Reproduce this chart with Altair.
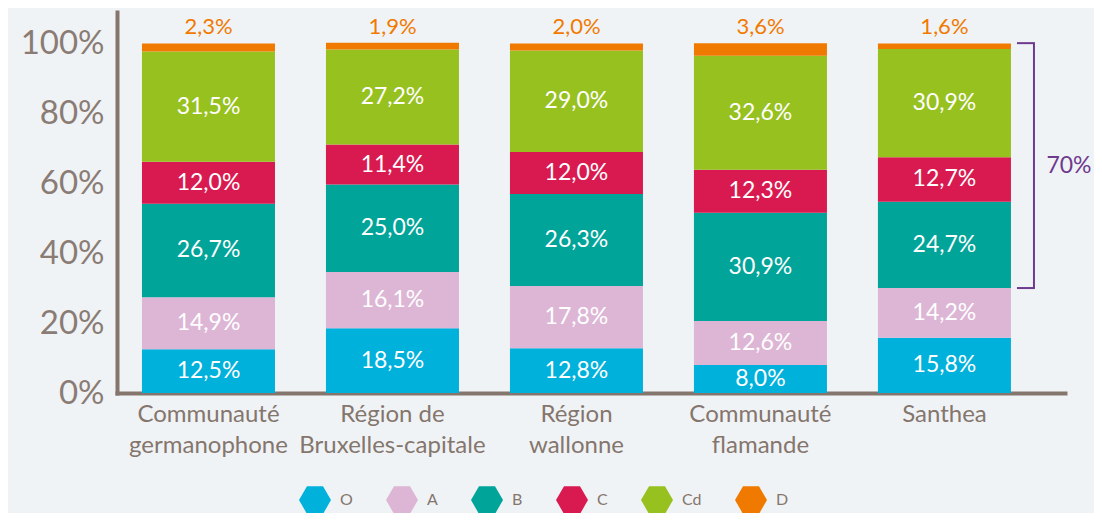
import altair as alt
import pandas as pd

# ---------------- data ----------------
categories = [
    "Communauté\ngermanophone",
    "Région de\nBruxelles-capitale",
    "Région\nwallonne",
    "Communauté\nflamande",
    "Santhea",
]
classes = ["O", "A", "B", "C", "Cd", "D"]
class_colors = ["#00b1dc", "#ddb6d6", "#00a499", "#d91a50", "#97c11f", "#f07a00"]

o_values = [12.5, 18.5, 12.8, 8.0, 15.8]
a_values = [14.9, 16.1, 17.8, 12.6, 14.2]
b_values = [26.7, 25.0, 26.3, 30.9, 24.7]
c_values = [12.0, 11.4, 12.0, 12.3, 12.7]
cd_values = [31.5, 27.2, 29.0, 32.6, 30.9]
d_values = [2.3, 1.9, 2.0, 3.6, 1.6]

y_ticks = [0, 20, 40, 60, 80, 100]

bracket_category = "Santhea"
bracket_low = 30
bracket_high = 100
bracket_label = "70%"

# ---------------- tables ----------------
series = [o_values, a_values, b_values, c_values, cd_values, d_values]
rows = []
for i, cat in enumerate(categories):
    for k, cls in enumerate(classes):
        v = series[k][i]
        rows.append({"cat": cat, "cls": cls, "idx": k, "v": v,
                     "label": f"{v:.1f}%".replace(".", ",")})
df = pd.DataFrame(rows)

bdf = pd.DataFrame([{"cat": bracket_category, "lo": bracket_low, "hi": bracket_high,
                     "mid": (bracket_low + bracket_high) / 2, "label": bracket_label}])

# ---------------- styles ----------------
FONT = "Lato"
AXIS_COL = "#85766d"
PURPLE = "#6e3a8e"
HEX = "M-1,0L-0.5,-0.866L0.5,-0.866L1,0L0.5,0.866L-0.5,0.866Z"

x_scale = alt.Scale(domain=categories, paddingInner=0.277, paddingOuter=0.2147, align=0.316)
y_scale = alt.Scale(domain=[0, 108.9], nice=False)

x_axis = alt.Axis(
    labelExpr="split(datum.value, '\\n')",
    labelFont=FONT, labelFontSize=24, labelColor=AXIS_COL, labelAngle=0,
    labelBaseline="top", labelLineHeight=31, labelPadding=9, labelLimit=0,
    ticks=False, domainColor=AXIS_COL, domainWidth=4, domainCap="square",
    grid=False, title=None,
)
y_axis = alt.Axis(
    values=y_ticks, labelExpr="datum.value + '%'",
    labelFont=FONT, labelFontSize=33, labelFontWeight=400, labelColor="#8a7c74",
    labelPadding=13, ticks=False, domainColor=AXIS_COL, domainWidth=4,
    domainCap="square", grid=False, title=None,
)

base = alt.Chart(df).transform_stack(
    stack="v", groupby=["cat"], as_=["y0", "y1"],
    sort=[alt.SortField("idx", order="ascending")],
).transform_calculate(mid="(datum.y0 + datum.y1) / 2")

bars = base.mark_bar().encode(
    x=alt.X("cat:N", scale=x_scale, axis=x_axis, sort=categories),
    y=alt.Y("y0:Q", scale=y_scale, axis=y_axis),
    y2="y1:Q",
    color=alt.Color(
        "cls:N",
        scale=alt.Scale(domain=classes, range=class_colors),
        legend=alt.Legend(
            orient="none", legendX=182, legendY=472, direction="horizontal",
            symbolType=HEX, symbolSize=1024, symbolStrokeWidth=0, symbolOpacity=1,
            labelFont=FONT, labelFontSize=16, labelColor=AXIS_COL,
            columnPadding=33, labelOffset=9, padding=0, title=None,
        ),
    ),
    order=alt.Order("idx:Q", sort="ascending"),
)

inner_labels = base.transform_filter("datum.idx < 5").mark_text(
    color="white", font=FONT, fontSize=23, baseline="middle", align="center"
).encode(
    x=alt.X("cat:N", scale=x_scale, sort=categories),
    y=alt.Y("mid:Q", scale=y_scale),
    text="label:N",
)

top_labels = base.transform_filter("datum.idx == 5").mark_text(
    color="#f07a00", font=FONT, fontSize=22, baseline="alphabetic", align="center", dy=-9
).encode(
    x=alt.X("cat:N", scale=x_scale, sort=categories),
    y=alt.Y("y1:Q", scale=y_scale),
    text="label:N",
)

bx = alt.X("cat:N", scale=x_scale, sort=categories, bandPosition=1)
bx2 = alt.X2("cat", bandPosition=1)

br_vert = alt.Chart(bdf).mark_rule(color=PURPLE, strokeWidth=2, xOffset=23).encode(
    x=bx, y=alt.Y("lo:Q", scale=y_scale), y2="hi:Q")
br_top = alt.Chart(bdf).mark_rule(color=PURPLE, strokeWidth=2, xOffset=6, x2Offset=24).encode(
    x=bx, x2=bx2, y=alt.Y("hi:Q", scale=y_scale))
br_bot = alt.Chart(bdf).mark_rule(color=PURPLE, strokeWidth=2, xOffset=6, x2Offset=24).encode(
    x=bx, x2=bx2, y=alt.Y("lo:Q", scale=y_scale))
br_text = alt.Chart(bdf).mark_text(
    color=PURPLE, font=FONT, fontSize=23, align="center", baseline="middle", xOffset=58
).encode(x=bx, y=alt.Y("mid:Q", scale=y_scale), text="label:N")

chart = alt.layer(
    bars, inner_labels, top_labels, br_vert, br_top, br_bot, br_text
).properties(
    width=948, height=381,
    autosize=alt.AutoSizeParams(type="none"),
    padding={"left": 109, "top": 4, "right": 29, "bottom": 120},
    background="#f0f3f6",
).configure_view(stroke=None)

chart.save("out.html", embed_options={"renderer": "svg", "actions": False})
